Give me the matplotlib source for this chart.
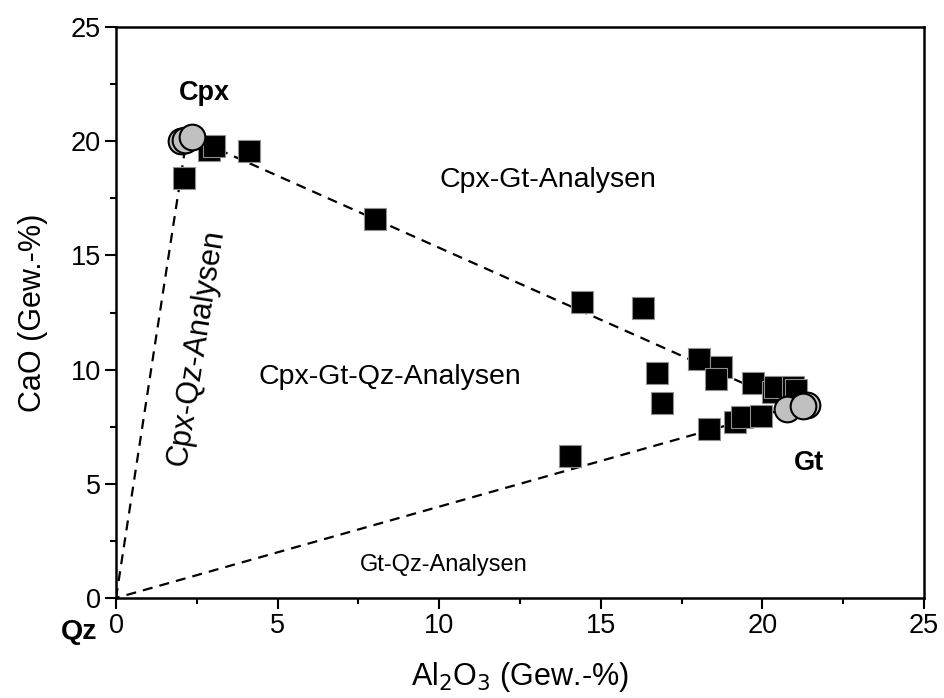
import matplotlib.pyplot as plt
from matplotlib.ticker import MultipleLocator

plt.rcParams['font.family'] = ['Liberation Sans', 'DejaVu Sans']

# Al2O3 / CaO (Gew.-%) of the analyses
sq_al = [2.10, 2.88, 3.03, 4.12, 8.01, 14.42, 16.30, 16.74, 16.89, 14.05,
         18.04, 18.72, 18.56, 19.71, 20.33, 20.40, 20.95, 21.05,
         18.35, 19.15, 19.37, 19.96]
sq_ca = [18.40, 19.61, 19.79, 19.57, 16.60, 12.96, 12.70, 9.85, 8.54, 6.22,
         10.46, 10.11, 9.59, 9.41, 9.02, 9.25, 9.24, 9.10,
         7.40, 7.70, 7.92, 7.97]

# endmember minerals
ci_al = [2.00, 2.13, 2.35, 20.76, 21.38, 21.26]
ci_ca = [20.00, 20.05, 20.18, 8.27, 8.45, 8.41]

# tie lines Qz-Cpx, Cpx-Gt, Gt-Qz
qz = (0.0, 0.0)
cpx = (2.2, 20.25)
gt = (21.0, 8.4)

fig = plt.figure(figsize=(9.44, 6.98), dpi=100)
ax = fig.add_axes([116 / 944, 1 - 598 / 698, 808 / 944, 571 / 698])

for a, b in [(qz, cpx), (cpx, gt), (gt, qz)]:
    ax.plot([a[0], b[0]], [a[1], b[1]], ls=(0, (4.5, 3.2)), color='black', lw=1.6, zorder=1)

ax.plot(sq_al, sq_ca, 's', ms=15.5, mfc='black', mec='#909090', mew=0.8, zorder=2)
ax.plot(ci_al, ci_ca, 'o', ms=18.5, mfc='#c0c0c0', mec='black', mew=1.5, zorder=3)

ax.text(2.75, 22.1, 'Cpx', fontsize=19.5, fontweight='bold', ha='center', va='center')
ax.text(21.45, 5.9, 'Gt', fontsize=19.5, fontweight='bold', ha='center', va='center')
ax.text(-1.14, -1.5, 'Qz', fontsize=20.5, fontweight='bold', ha='center', va='center', clip_on=False)
ax.text(13.37, 18.3, 'Cpx-Gt-Analysen', fontsize=20.5, ha='center', va='center')
ax.text(8.48, 9.68, 'Cpx-Gt-Qz-Analysen', fontsize=20.5, ha='center', va='center')
ax.text(10.15, 1.44, 'Gt-Qz-Analysen', fontsize=17, ha='center', va='center')
ax.text(2.5, 10.95, 'Cpx-Qz-Analysen', fontsize=22, ha='center', va='center', rotation=81)

ax.set_xlim(0, 25)
ax.set_ylim(0, 25)
ax.xaxis.set_major_locator(MultipleLocator(5))
ax.yaxis.set_major_locator(MultipleLocator(5))
ax.xaxis.set_minor_locator(MultipleLocator(2.5))
ax.yaxis.set_minor_locator(MultipleLocator(2.5))
ax.tick_params(which='major', direction='out', length=8, width=1.5, labelsize=19.5, pad=3)
ax.tick_params(which='minor', direction='out', length=4.5, width=1.5)
for s in ax.spines.values():
    s.set_linewidth(1.8)

ax.set_xlabel('Al$_2$O$_3$ (Gew.-%)', fontsize=22, labelpad=15)
ax.set_ylabel('CaO (Gew.-%)', fontsize=22, labelpad=16)

fig.savefig('out.png', dpi=100)
